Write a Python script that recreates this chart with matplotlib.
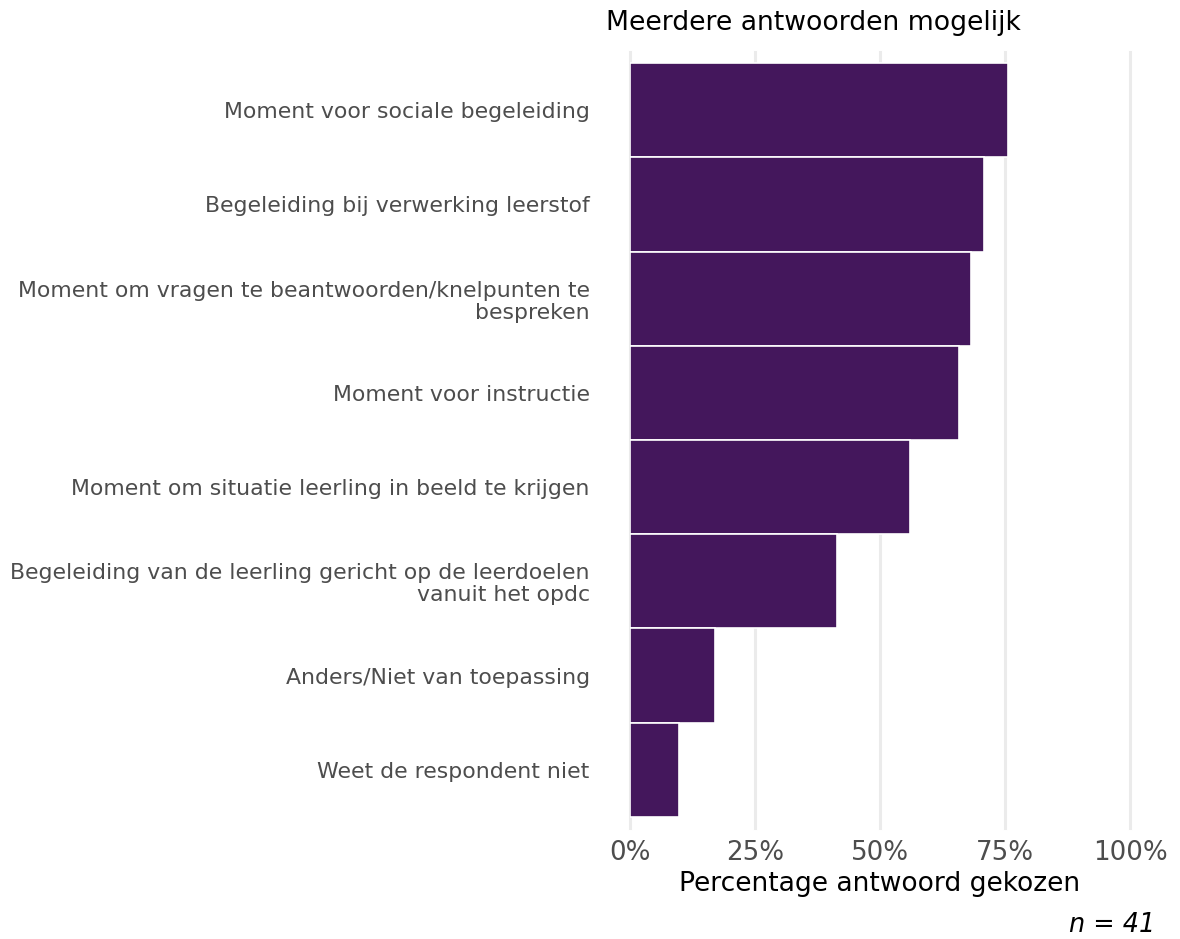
#!/usr/bin/env python3
# -*- coding: utf-8 -*-

import matplotlib
matplotlib.use('Agg')
import matplotlib.pyplot as plt
from matplotlib.ticker import PercentFormatter

# answers, top to bottom as in the chart
categories = ['Moment voor sociale begeleiding',
              'Begeleiding bij verwerking leerstof',
              'Moment om vragen te beantwoorden/knelpunten te\nbespreken',
              'Moment voor instructie',
              'Moment om situatie leerling in beeld te krijgen',
              'Begeleiding van de leerling gericht op de leerdoelen\nvanuit het opdc',
              'Anders/Niet van toepassing',
              'Weet de respondent niet']
counts = [31, 29, 28, 27, 23, 17, 7, 4]
n_total = 41
shares = [c / n_total for c in counts]
x_ticks = [0, 0.25, 0.5, 0.75, 1.0]

fig = plt.figure(figsize=(11.8, 9.39), dpi=100)
ax = fig.add_axes([630/1180, 1 - 828/939, 500/1180, 776/939])

ypos = list(range(len(categories)))
ax.barh(ypos, shares, height=1.0, color='#44175C', edgecolor='white',
        linewidth=1.2, zorder=3)

ax.set_ylim(len(categories) - 0.5 + 0.117, -0.5 - 0.117)
ax.set_xlim(0, 1)
ax.set_yticks(ypos)
ax.set_yticklabels(categories, fontsize=15.8, color='#4D4D4D',
                   linespacing=1.12)
ax.set_xticks(x_ticks)
ax.xaxis.set_major_formatter(PercentFormatter(1.0, decimals=0))
ax.tick_params(axis='x', labelsize=18.8, colors='#4D4D4D', length=0, pad=9)
ax.tick_params(axis='y', length=0, pad=29)

for s in ax.spines.values():
    s.set_visible(False)
for xv in x_ticks:
    ax.axvline(xv, color='#EBEBEB', linewidth=2.2, zorder=1, clip_on=False)

ax.set_xlabel('Percentage antwoord gekozen', fontsize=19.1, color='black',
              labelpad=3)
fig.text(606/1180, 1 - 23/939, 'Meerdere antwoorden mogelijk', fontsize=19.2,
         ha='left', va='center')
fig.text(1155/1180, 1 - 925/939, 'n = %d' % n_total, fontsize=18.4,
         style='italic', ha='right', va='center')

plt.savefig('out.png', dpi=100)
